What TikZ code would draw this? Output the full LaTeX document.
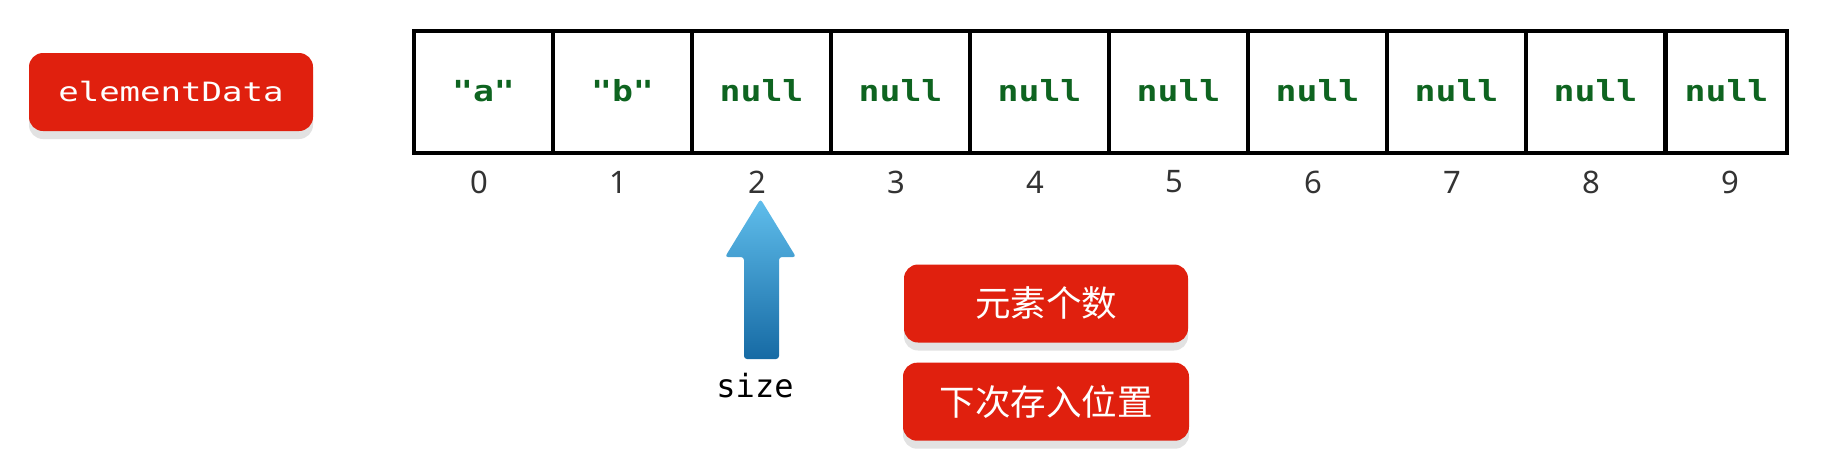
\documentclass[tikz,border=0pt]{standalone}
\usepackage{fontspec}
\setmainfont{Noto Sans}
\setmonofont{DejaVu Sans Mono}
\newfontfamily\cjkfont{Noto Sans CJK SC}
\newfontfamily\codefont[FakeStretch=1.2]{DejaVu Sans Mono}
\newfontfamily\namefont[FakeStretch=1.28]{DejaVu Sans Mono}
\usetikzlibrary{positioning, shadows}
\definecolor{btnred}{RGB}{224,32,14}
\definecolor{nullgreen}{RGB}{14,100,32}
\definecolor{arrowtop}{RGB}{96,190,236}
\definecolor{arrowbottom}{RGB}{22,106,164}
\definecolor{idxgray}{RGB}{51,51,51}

\tikzset{
  redbtn/.style={fill=btnred, rounded corners=7pt, text=white, inner sep=0pt,
    drop shadow={shadow xshift=0pt, shadow yshift=-4pt, fill=black!25, opacity=0.45}},
  cell/.style={draw, line width=2pt, minimum width=69.5pt, minimum height=61pt, inner sep=0pt,
    text height=10pt, text depth=0.2pt,
    font=\codefont\bfseries\fontsize{14.5}{14.5}\selectfont, text=nullgreen},
  idx/.style={font=\fontsize{15.5}{15.5}\selectfont, text=idxgray},
}

\begin{document}
\begin{tikzpicture}[x=0.5pt, y=-0.5pt]
    \useasboundingbox (0,0) rectangle (1840,462);
    % array name
    \node[redbtn, minimum width=142pt, minimum height=39pt,
      font=\namefont\fontsize{13.3}{13.3}\selectfont] (elem) at (171,92) {elementData};
    % array cells
    \foreach \i/\val in {0/"a", 1/"b", 2/null, 3/null, 4/null, 5/null, 6/null, 7/null, 8/null}
        \node[cell] (c\i) at (483.5+139*\i,91.5) {\val};
    \node[cell, minimum width=60.5pt] (c9) at (1726.5,91.5) {null};
    % indices
    \foreach \i in {0,...,9}
        \node[idx] (n\i) at (479+139*\i,182) {\i};
    % size pointer
    \shade[top color=arrowtop, bottom color=arrowbottom, rounded corners=1.5pt]
        (760.5,199) -- (796,257) -- (779,257) -- (779,359) -- (744,359) -- (744,257) -- (725,257) -- cycle;
    \node[font=\ttfamily\fontsize{16}{16}\selectfont, anchor=base] (size) at (755,397) {size};
    % meaning of size
    \node[redbtn, minimum width=142pt, minimum height=39pt,
      font=\cjkfont\fontsize{17.75}{17.75}\selectfont] (count) at (1046,303.5) {元素个数};
    \node[redbtn, minimum width=143pt, minimum height=39pt,
      font=\cjkfont\fontsize{17.75}{17.75}\selectfont, below=9.7pt of count] (next) {下次存入位置};
\end{tikzpicture}
\end{document}
